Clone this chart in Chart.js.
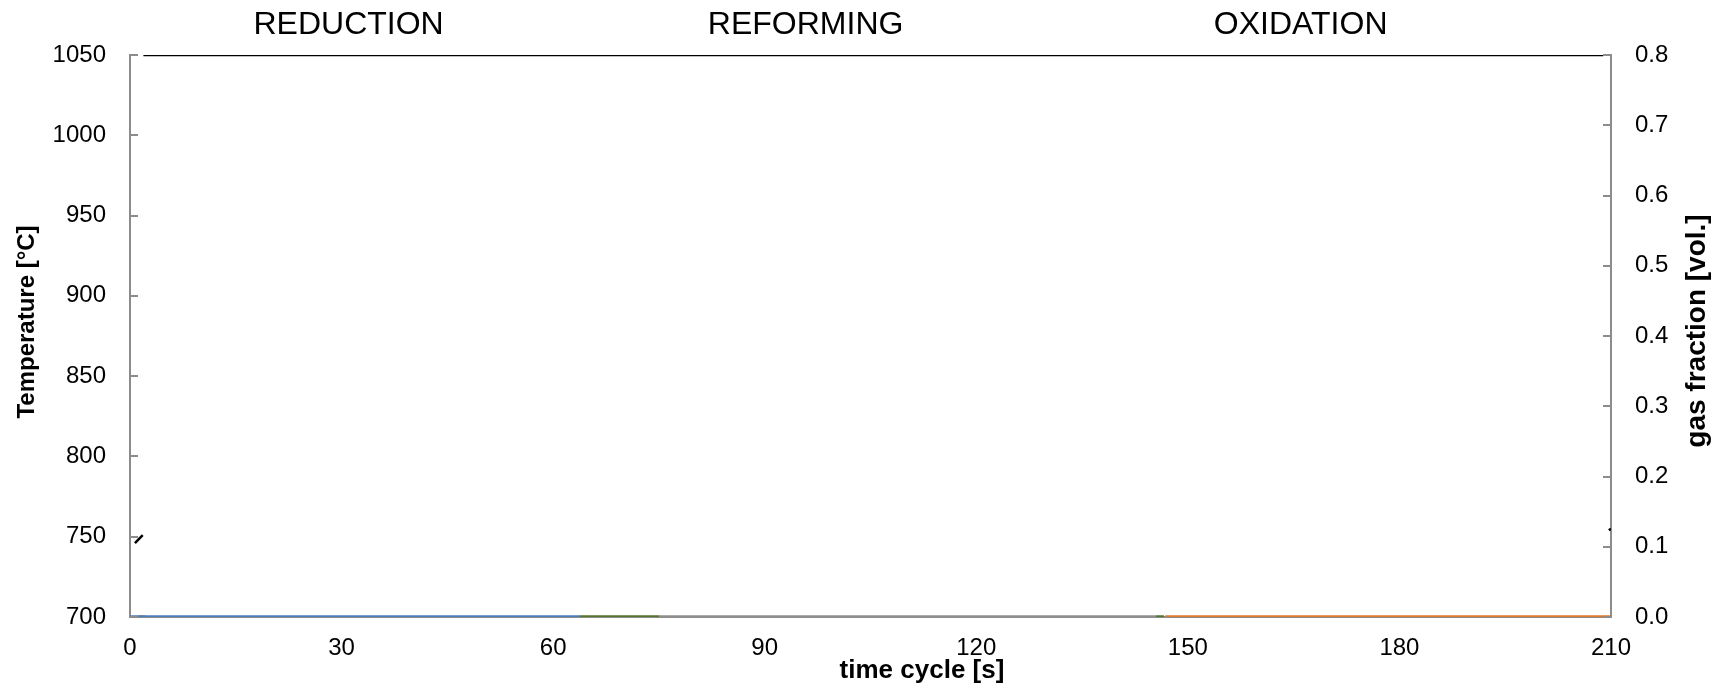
<!DOCTYPE html>
<html>
<head>
<meta charset="utf-8">
<script src="https://cdn.jsdelivr.net/npm/chart.js@4.4.1/dist/chart.umd.min.js"></script>
<style>
html,body{margin:0;padding:0;background:#fff;}
#wrap{width:1716px;height:685px;}
</style>
</head>
<body>
<div id="wrap"><canvas id="cycleChart" width="1716" height="685"></canvas></div>
<script>

/* -------- DATA -------- */

const tempTime = [0.7, 1.8, 1.85, 1.9, 208.9, 209.5, 209.7, 210];
const tempValue = [746, 751, null, 1050, 1050, null, 754, 755];

const blueTime = [0, 63.8];
const blueValue = [0, 0];

const greenTime = [63.8, 75, 75.1, 145.5, 146.6];
const greenValue = [0, 0, null, 0, 0];

const greyTime = [75, 145.5];
const greyValue = [0, 0];

const orangeTime = [1.1, 2.2, 2.3, 146.8, 210];
const orangeValue = [0, 0, null, 0, 0];

const xTicks = [0, 30, 60, 90, 120, 150, 180, 210];
const tempTicks = [700, 750, 800, 850, 900, 950, 1000, 1050];
const gasTicks = [0, 0.1, 0.2, 0.3, 0.4, 0.5, 0.6, 0.7, 0.8];

const phaseNames = ["REDUCTION", "REFORMING", "OXIDATION"];
const phaseAt = [31, 95.8, 166];

function points(t, v){
return t.map((x,i)=>({x:x, y:v[i]}));
}

const FONT = "'Liberation Sans', Arial, sans-serif";
const AXIS_GREY = "#8c8c8c";

/* -------- PHASE LABELS, TITLES, INWARD TICKS -------- */

const extras = {
id:"extras",
afterDraw(chart){
const c = chart.ctx;
const xs = chart.scales.x;
const yl = chart.scales.y;
const yr = chart.scales.y2;
const a = chart.chartArea;

c.save();
c.strokeStyle = AXIS_GREY;
c.lineWidth = 2;
tempTicks.forEach(v=>{
let py = Math.round(yl.getPixelForValue(v));
c.beginPath();
c.moveTo(a.left, py);
c.lineTo(a.left+8, py);
c.stroke();
});
gasTicks.forEach(v=>{
let py = Math.round(yr.getPixelForValue(v));
c.beginPath();
c.moveTo(a.right, py);
c.lineTo(a.right-8, py);
c.stroke();
});

c.fillStyle = "#000";
c.textAlign = "center";
c.textBaseline = "middle";

c.font = "32px " + FONT;
phaseNames.forEach((n,i)=>{
c.fillText(n, xs.getPixelForValue(phaseAt[i]), 25);
});

// x title sits right of centre in the original
c.font = "bold 26px " + FONT;
c.fillText("time cycle [s]", xs.getPixelForValue(112.3), 671);

// left title, a bit above the middle
c.save();
c.translate(27, 322);
c.rotate(-Math.PI/2);
c.font = "bold 24px " + FONT;
c.fillText("Temperature [°C]", 0, 0);
c.restore();

// right title reads bottom to top
c.translate(1697, 331);
c.rotate(-Math.PI/2);
c.font = "bold 28px " + FONT;
c.fillText("gas fraction [vol.]", 0, 0);
c.restore();
}
};

/* -------- CHART -------- */

const ctx = document.getElementById("cycleChart").getContext("2d");

new Chart(ctx,{
type:"line",
data:{
datasets:[
{
label:"Temperature",
data:points(tempTime,tempValue),
yAxisID:"y",
borderColor:"#000000",
borderWidth:2.5,
pointRadius:0,
spanGaps:false
},
{
label:"blue",
data:points(blueTime,blueValue),
yAxisID:"y2",
borderColor:"#4a7ebb",
borderWidth:3.5,
pointRadius:0
},
{
label:"green",
data:points(greenTime,greenValue),
yAxisID:"y2",
borderColor:"#55752a",
borderWidth:3.5,
pointRadius:0,
spanGaps:false
},
{
label:"grey",
data:points(greyTime,greyValue),
yAxisID:"y2",
borderColor:"#8f8f8f",
borderWidth:3.5,
pointRadius:0
},
{
label:"orange",
data:points(orangeTime,orangeValue),
yAxisID:"y2",
borderColor:"#e07b2c",
borderWidth:3.5,
pointRadius:0,
spanGaps:false
}
]
},
options:{
responsive:false,
animation:false,
events:[],
layout:{padding:{top:55,left:0,right:0,bottom:0}},
plugins:{
legend:{display:false},
tooltip:{enabled:false}
},
scales:{
x:{
type:"linear",
position:"bottom",
min:0,
max:210,
afterBuildTicks:s=>{s.ticks = xTicks.map(v=>({value:v}));},
afterFit:s=>{s.height = 68;},
grid:{display:true,drawOnChartArea:false,drawTicks:false},
border:{color:AXIS_GREY,width:2},
ticks:{color:"#000",font:{family:FONT,size:24},padding:17,maxRotation:0,callback:v=>String(v)}
},
y:{
type:"linear",
position:"left",
min:700,
max:1050,
afterBuildTicks:s=>{s.ticks = tempTicks.map(v=>({value:v}));},
afterFit:s=>{s.width = 130;},
grid:{display:true,drawOnChartArea:false,drawTicks:false},
border:{color:AXIS_GREY,width:2},
ticks:{color:"#000",font:{family:FONT,size:24},padding:24,callback:v=>String(v)}
},
y2:{
type:"linear",
position:"right",
min:0,
max:0.8,
afterBuildTicks:s=>{s.ticks = gasTicks.map(v=>({value:v}));},
afterFit:s=>{s.width = 105;},
grid:{display:true,drawOnChartArea:false,drawTicks:false},
border:{color:AXIS_GREY,width:2},
ticks:{color:"#000",font:{family:FONT,size:24},padding:24,callback:v=>v.toFixed(1)}
}
}
},
plugins:[extras]
});

</script>
</body>
</html>
